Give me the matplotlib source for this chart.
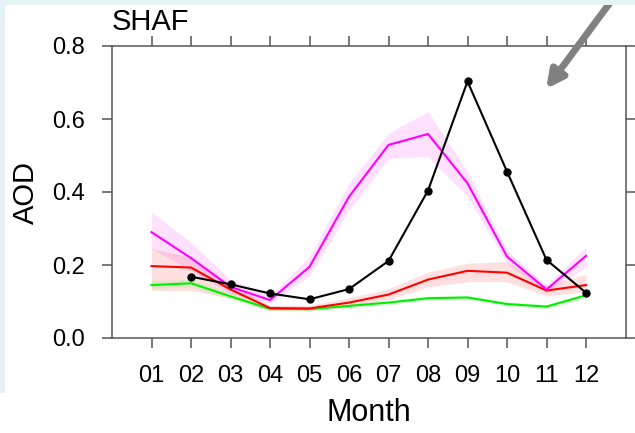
import matplotlib
matplotlib.use("Agg")
import matplotlib.pyplot as plt
from matplotlib.patches import Rectangle

plt.rcParams["font.family"] = ["Liberation Sans", "DejaVu Sans"]

months = [1, 2, 3, 4, 5, 6, 7, 8, 9, 10, 11, 12]
month_labels = ["01", "02", "03", "04", "05", "06", "07", "08", "09", "10", "11", "12"]

# observations (start in Feb)
obs_months = [2, 3, 4, 5, 6, 7, 8, 9, 10, 11, 12]
obs = [0.168, 0.147, 0.122, 0.106, 0.134, 0.211, 0.404, 0.703, 0.456, 0.214, 0.124]

magenta = [0.290, 0.219, 0.140, 0.104, 0.195, 0.387, 0.529, 0.559, 0.424, 0.223, 0.133, 0.225]
magenta_lo = [0.245, 0.185, 0.122, 0.095, 0.170, 0.350, 0.492, 0.497, 0.387, 0.205, 0.124, 0.195]
magenta_hi = [0.345, 0.262, 0.160, 0.115, 0.223, 0.424, 0.561, 0.620, 0.456, 0.240, 0.145, 0.250]

red = [0.197, 0.193, 0.133, 0.082, 0.081, 0.097, 0.119, 0.160, 0.184, 0.179, 0.130, 0.145]
red_lo = [0.130, 0.130, 0.110, 0.075, 0.075, 0.085, 0.105, 0.140, 0.154, 0.154, 0.115, 0.127]
red_hi = [0.245, 0.222, 0.147, 0.090, 0.090, 0.110, 0.135, 0.180, 0.205, 0.209, 0.142, 0.175]

green = [0.145, 0.150, 0.114, 0.080, 0.079, 0.088, 0.097, 0.109, 0.111, 0.093, 0.086, 0.117]
green_lo = [0.135, 0.140, 0.105, 0.074, 0.074, 0.082, 0.091, 0.103, 0.105, 0.087, 0.080, 0.110]
green_hi = [0.158, 0.160, 0.124, 0.086, 0.085, 0.094, 0.103, 0.115, 0.117, 0.099, 0.092, 0.124]

fig = plt.figure(figsize=(6.35, 4.33), dpi=100)
fig.patch.set_facecolor("white")

# slide background strips
fig.patches.append(Rectangle((0, 1 - 5 / 433), 1, 5 / 433, transform=fig.transFigure,
                             facecolor="#e4f3f3", edgecolor="none", zorder=0))
fig.patches.append(Rectangle((0, 40 / 433), 5 / 635, 1 - 40 / 433, transform=fig.transFigure,
                             facecolor="#e6f0f9", edgecolor="none", zorder=0))

ax = fig.add_axes([112 / 635, 1 - 338 / 433, 513.5 / 635, 292 / 433])

ax.fill_between(months, magenta_lo, magenta_hi, color="#ff00ff", alpha=0.12, lw=0)
ax.fill_between(months, red_lo, red_hi, color="#ff3030", alpha=0.15, lw=0)
ax.fill_between(months, green_lo, green_hi, color="#00ff00", alpha=0.12, lw=0)

ax.plot(months, green, color="#00ee00", lw=1.5)
ax.plot(months, red, color="#ff0000", lw=1.5)
ax.plot(months, magenta, color="#ff00ff", lw=1.5)
ax.plot(obs_months, obs, color="black", lw=1.5, marker="o", markersize=5)

ax.set_xlim(0, 13)
ax.set_ylim(0, 0.8)
ax.set_xticks(months)
ax.set_xticklabels(month_labels)
ax.set_yticks([0.0, 0.2, 0.4, 0.6, 0.8])
ax.set_yticklabels(["0.0", "0.2", "0.4", "0.6", "0.8"])
ax.tick_params(axis="both", direction="out", length=7.5, width=1.1, color="#555555",
               labelsize=17, pad=12)
ax.tick_params(axis="x", top=True)
ax.tick_params(axis="y", right=True)
for s in ax.spines.values():
    s.set_color("#555555")
    s.set_linewidth(1.1)

ax.set_xlabel("Month", fontsize=22, labelpad=8)
ax.set_ylabel("AOD", fontsize=21, labelpad=9)
ax.text(0.0, 1.035, "SHAF", transform=ax.transAxes, fontsize=21, ha="left", va="bottom")

# pointer arrow from the slide
ax.annotate("", xy=(546 / 635, 1 - 89 / 433), xycoords="figure fraction",
            xytext=(612 / 635, 1.0), textcoords="figure fraction",
            arrowprops=dict(arrowstyle="-|>", color="#808080", lw=5, mutation_scale=26,
                            shrinkA=0, shrinkB=0),
            annotation_clip=False)

fig.savefig("out.png", dpi=100)
